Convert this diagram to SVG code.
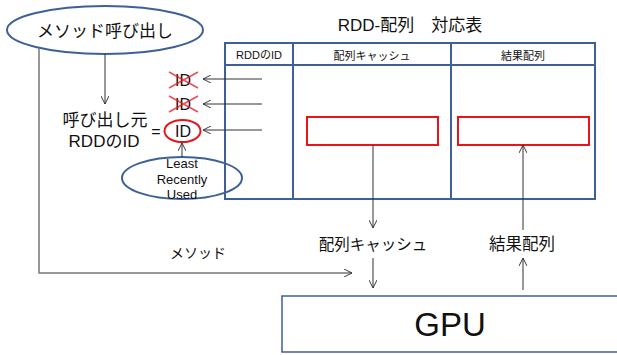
<svg xmlns="http://www.w3.org/2000/svg" width="617" height="355" viewBox="0 0 617 355">
<style>
text{font-family:"Liberation Sans","Noto Sans CJK JP",sans-serif;fill:#111;text-anchor:middle;}
.blue{fill:none;stroke:#3d6196;stroke-width:2;}
.red{fill:none;stroke:#e8141a;stroke-width:2;}
.ln{fill:none;stroke:#333;stroke-width:1;}
.gl{fill:none;stroke:#777;stroke-width:1.5;}
</style>
<defs>
<marker id="ah" viewBox="0 0 10 10" refX="10" refY="5" markerWidth="8" markerHeight="8" orient="auto" markerUnits="userSpaceOnUse">
<path d="M0,0 L10,5 L0,10" fill="none" stroke="#333" stroke-width="1.2"/>
</marker>
</defs>
<rect width="617" height="355" fill="#fff"/>

<g id="call">
<ellipse class="blue" cx="105" cy="30" rx="98" ry="24"/>
<text x="105" y="37" font-size="17">メソッド呼び出し</text>
</g>

<g id="caller">
<text x="105" y="126" font-size="17">呼び出し元</text>
<text x="104" y="147" font-size="17">RDDのID</text>
<text x="156" y="137" font-size="16">=</text>
</g>

<g id="id-old1">
<text x="183" y="86" font-size="16">ID</text>
<path d="M169,72 L198,88 M169,88 L198,72" stroke="#e8141a" stroke-width="1.5" opacity="0.75"/>
</g>
<g id="id-old2">
<text x="183" y="110" font-size="16">ID</text>
<path d="M169,96 L198,112 M169,112 L198,96" stroke="#e8141a" stroke-width="1.5" opacity="0.75"/>
</g>
<g id="id-cur">
<ellipse class="red" cx="182.5" cy="131" rx="18" ry="11" stroke-width="1.5"/>
<text x="183" y="137" font-size="16">ID</text>
</g>

<g id="lru">
<ellipse class="blue" cx="182" cy="178" rx="60" ry="21"/>
<text x="182" y="168" font-size="13">Least</text>
<text x="182" y="184" font-size="13">Recently</text>
<text x="182" y="199" font-size="13">Used</text>
</g>

<g id="table">
<text x="410" y="31" font-size="17">RDD-配列　対応表</text>
<rect class="blue" x="225" y="43" width="370" height="156"/>
<line class="blue" x1="225" y1="65" x2="595" y2="65"/>
<line class="blue" x1="293" y1="43" x2="293" y2="199"/>
<line class="blue" x1="451" y1="43" x2="451" y2="199"/>
<text x="259" y="59" font-size="11">RDDのID</text>
<text x="372" y="60" font-size="11">配列キャッシュ</text>
<text x="523" y="60" font-size="11">結果配列</text>
</g>

<g id="cache-cell"><rect class="red" x="307" y="117" width="131" height="28"/></g>
<g id="result-cell"><rect class="red" x="458" y="117" width="131" height="28"/></g>

<g id="labels">
<text x="373" y="250" font-size="15.5">配列キャッシュ</text>
<text x="522" y="250" font-size="16.5">結果配列</text>
<text x="198" y="258" font-size="14">メソッド</text>
</g>

<g id="gpu">
<rect x="282" y="296" width="345" height="56" fill="#fff" stroke="#3d6196" stroke-width="1.5"/>
<text x="450" y="336" font-size="33">GPU</text>
</g>

<g id="connectors">
<line class="ln" x1="105" y1="54" x2="105" y2="104" marker-end="url(#ah)"/>
<polyline class="gl" points="39,48 39,273 352,273" marker-end="url(#ah)"/>
<line class="ln" x1="262" y1="79" x2="203" y2="79" marker-end="url(#ah)"/>
<line class="ln" x1="262" y1="104" x2="203" y2="104" marker-end="url(#ah)"/>
<line class="ln" x1="262" y1="130" x2="203" y2="130" marker-end="url(#ah)"/>
<line class="ln" x1="182" y1="157" x2="182" y2="143" marker-end="url(#ah)"/>
<line class="ln" x1="373" y1="145" x2="373" y2="228" marker-end="url(#ah)"/>
<line class="ln" x1="373" y1="258" x2="373" y2="288" marker-end="url(#ah)"/>
<line class="ln" x1="523" y1="230" x2="523" y2="145" marker-end="url(#ah)"/>
<line class="ln" x1="523" y1="290" x2="523" y2="258" marker-end="url(#ah)"/>
</g>
</svg>
